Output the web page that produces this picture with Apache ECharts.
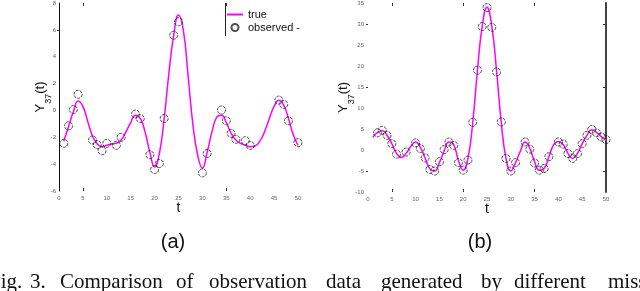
<!DOCTYPE html>
<html><head><meta charset="utf-8">
<script src="https://cdn.jsdelivr.net/npm/echarts@6/dist/echarts.min.js"></script>
<style>html,body{margin:0;padding:0;background:#fff}#c{width:640px;height:291px}</style>
</head><body><div id="c"></div>
<script>
// ---- data ----
const tValues = [1,2,3,4,5,6,7,8,9,10,11,12,13,14,15,16,17,18,19,20,21,22,23,24,25,26,27,28,29,30,31,32,33,34,35,36,37,38,39,40,41,42,43,44,45,46,47,48,49,50];
const trueA = [-2.3,-1.2,-0.1,0.7,0.3,-0.8,-1.9,-2.5,-2.7,-2.6,-2.5,-2.45,-2.2,-1.6,-0.9,-0.35,-0.6,-1.6,-3.1,-4.2,-3.2,-0.6,2.8,5.6,7.1,6.0,2.6,-1.0,-3.3,-4.3,-3.1,-1.6,-0.5,-0.35,-0.9,-1.7,-2.2,-2.45,-2.6,-2.7,-2.65,-2.3,-1.6,-0.6,0.3,0.75,0.4,-0.6,-1.8,-2.6];
const obsTimesA = [1,2,3,4,7,8,9,10,12,13,16,17,19,20,21,22,24,25,30,31,34,35,36,37,39,40,46,47,48,50];
const obsValuesA = [-2.45,-1.15,0.07,1.2,-2.2,-2.55,-3.0,-2.45,-2.6,-2.0,-0.27,-0.6,-3.3,-4.4,-3.95,-0.6,5.6,6.6,-4.65,-3.2,0.03,-0.77,-1.7,-2.15,-2.25,-2.6,0.77,0.45,-0.77,-2.4];

const trueB = [3.0,4.2,4.6,3.5,1.5,-0.8,-1.8,-0.8,0.9,1.9,0.6,-1.9,-4.5,-5.0,-3.0,-0.2,1.9,1.3,-2.5,-4.8,-2.0,6.5,19,29.5,34,29.5,19,6.5,-2.0,-5.0,-3.0,-0.3,1.9,0.4,-2.8,-4.8,-4.4,-1.6,1.2,2.0,1.3,-0.8,-2.0,-0.8,1.5,3.5,4.8,4.2,3.2,2.4];
const obsTimesB = [2,3,4,5,6,8,10,11,12,13,14,15,16,17,18,19,20,21,22,23,24,25,26,27,28,29,30,31,33,34,35,36,37,38,40,41,42,43,44,45,46,47,48,49,50];
const obsValuesB = [4.1,4.7,3.5,1.5,-1.0,-0.5,1.7,0.35,-1.9,-4.65,-5.0,-2.8,0.1,1.9,1.1,-3.0,-4.8,-2.4,6.6,19,29.4,33.9,29.2,18.6,6.7,-2.0,-5.0,-3.0,1.9,0.2,-3.1,-4.8,-4.4,-1.6,1.9,1.4,-0.85,-2.0,-0.85,1.5,3.5,4.9,4.1,3.1,2.5];

const captionWords = ['Fig.','3.','Comparison','of','observation','data','generated','by','different','miss'];
const captionX = [-11,30,60,176,209,326,381,481,514,608];

// ---- chart ----
const zip = (a,b) => a.map((v,i)=>[v,b[i]]);
const SANS = '"Liberation Sans", Arial, sans-serif';
const tickLbl = {fontSize:6, color:'#666', fontFamily:SANS};
const yName = '{y|Y}{s|37}{y|(t)}';
const yNameStyle = {fontFamily:SANS, color:'#111', rich:{
  y:{fontSize:13, lineHeight:18, fontFamily:SANS, color:'#111'},
  s:{fontSize:9, lineHeight:18, verticalAlign:'bottom', fontFamily:SANS, color:'#111', padding:[0,0,-4,0]}
}};
const circleStyle = {color:'rgba(255,255,255,0)', borderColor:'#222', borderWidth:1, borderType:[3,1]};

function xMain(g, ticks){
  return {type:'value', gridIndex:g, min:0, max:50, interval:5,
    name:'t', nameLocation:'middle', nameGap:10, nameMoveOverlap:false,
    nameTextStyle:{fontSize:14, fontFamily:SANS, color:'#111'},
    axisLine:{show:false, onZero:false}, splitLine:{show:false},
    axisTick:{show:true, inside:true, length:3, customValues:ticks, lineStyle:{color:'#333'}},
    axisLabel:Object.assign({margin:4}, tickLbl)};
}
function xTop(g, ticks){
  return {type:'value', gridIndex:g, position:'top', min:0, max:50,
    axisLine:{show:false, onZero:false}, splitLine:{show:false}, axisLabel:{show:false},
    axisTick:{show:true, inside:true, length:3, customValues:ticks, lineStyle:{color:'#333'}}};
}

const chart = echarts.init(document.getElementById('c'), null, {renderer:'canvas'});
chart.setOption({
  animation:false,
  backgroundColor:'#fff',
  grid:[
    {left:59, top:3, width:239, height:188},
    {left:368, top:3, width:238, height:189}
  ],
  xAxis:[ xMain(0,[5,35]), xMain(1,[5,20,35]), xTop(0,[5,35]), xTop(1,[5,20,35]) ],
  yAxis:[
    {type:'value', gridIndex:0, min:-6, max:8, interval:2,
      name:yName, nameLocation:'middle', nameRotate:90, nameGap:10, nameMoveOverlap:false, nameTextStyle:yNameStyle,
      axisLine:{show:true, onZero:false, lineStyle:{color:'#111', width:1}},
      axisTick:{show:true, length:2, customValues:[6], lineStyle:{color:'#333'}},
      splitLine:{show:false}, axisLabel:Object.assign({margin:3}, tickLbl)},
    {type:'value', gridIndex:1, min:-10, max:35, interval:5,
      name:yName, nameLocation:'middle', nameRotate:90, nameGap:16, nameMoveOverlap:false, nameTextStyle:yNameStyle,
      axisLine:{show:false, onZero:false},
      axisTick:{show:true, length:2, customValues:[30,15,-5], lineStyle:{color:'#333'}},
      splitLine:{show:false}, axisLabel:Object.assign({margin:4}, tickLbl)},
    {type:'value', gridIndex:1, position:'right', min:-10, max:35, interval:5,
      axisLine:{show:true, onZero:false, lineStyle:{color:'#444', width:2}},
      axisTick:{show:true, inside:true, length:3, customValues:[30,15,-5], lineStyle:{color:'#333'}},
      splitLine:{show:false}, axisLabel:{show:false}}
  ],
  legend:{show:true, orient:'vertical', left:226, top:9, padding:0, itemWidth:16, itemHeight:7, itemGap:2,
    textStyle:{fontSize:11, fontFamily:SANS, color:'#111'},
    data:[{name:'true', itemStyle:{opacity:0}}, 'observed -']},
  series:[
    {name:'true', type:'line', xAxisIndex:0, yAxisIndex:0, data:zip(tValues,trueA), smooth:true,
      symbol:'none', lineStyle:{color:'#ff00ff', width:1.5}, itemStyle:{color:'#ff00ff'}, z:2},
    {name:'observed -', type:'scatter', xAxisIndex:0, yAxisIndex:0, data:zip(obsTimesA,obsValuesA),
      symbol:'circle', symbolSize:8, itemStyle:circleStyle, z:3},
    {name:'trueB', type:'line', xAxisIndex:1, yAxisIndex:1, data:zip(tValues,trueB), smooth:true,
      symbol:'none', lineStyle:{color:'#ff00ff', width:1.5}, z:2},
    {name:'obsB', type:'scatter', xAxisIndex:1, yAxisIndex:1, data:zip(obsTimesB,obsValuesB),
      symbol:'circle', symbolSize:8, itemStyle:circleStyle, z:3}
  ],
  graphic:[
    {type:'line', shape:{x1:225.5, y1:3, x2:225.5, y2:36}, style:{stroke:'#222', lineWidth:1}},
    {type:'text', x:173, y:242, style:{text:'(a)', fontSize:20, fontFamily:SANS, fill:'#111', align:'center', verticalAlign:'middle'}},
    {type:'text', x:480, y:242, style:{text:'(b)', fontSize:20, fontFamily:SANS, fill:'#111', align:'center', verticalAlign:'middle'}}
  ].concat(captionWords.map((w,i)=>({type:'text', x:captionX[i], y:282,
    style:{text:w, fontSize:21, fontFamily:'"Liberation Serif", "Times New Roman", serif', fill:'#111', align:'left', verticalAlign:'middle'}})))
});
</script></body></html>
